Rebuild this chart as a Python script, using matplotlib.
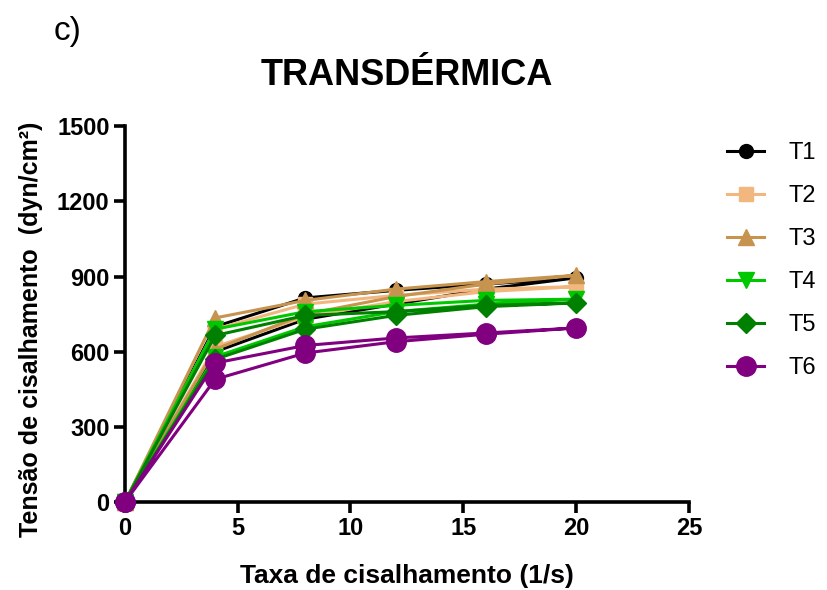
import matplotlib
matplotlib.use("Agg")
import matplotlib.pyplot as plt

plt.rcParams["font.family"] = ["Liberation Sans", "DejaVu Sans"]

# shear rate, up-ramp then down-ramp
taxa = [0, 4, 8, 12, 16, 20, 16, 12, 8, 4, 0]

# shear stress (dyn/cm2) for each sample
t1 = [0, 600, 730, 790, 850, 895, 870, 845, 815, 700, 0]
t2 = [0, 620, 740, 800, 840, 860, 850, 825, 790, 690, 0]
t3 = [0, 610, 750, 820, 870, 905, 880, 850, 805, 735, 0]
t4 = [0, 580, 700, 760, 790, 810, 805, 785, 760, 690, 0]
t5 = [0, 570, 690, 745, 780, 795, 785, 760, 745, 665, 0]
t6 = [0, 490, 595, 640, 670, 695, 675, 655, 625, 555, 0]

nomes = ["T1", "T2", "T3", "T4", "T5", "T6"]
cores = ["#000000", "#F2B77E", "#C6944F", "#00C800", "#008000", "#800080"]
marcadores = ["o", "s", "^", "v", "D", "o"]
tamanhos = [10, 10, 11, 11, 10, 14]

fig = plt.figure(figsize=(8.27, 5.9), dpi=100)
ax = fig.add_axes([0.151, 0.149, 0.682, 0.637])

for ys, nome, cor, mk, ms in zip([t1, t2, t3, t4, t5, t6], nomes, cores, marcadores, tamanhos):
    ax.plot(taxa, ys, color=cor, marker=mk, markersize=ms, linewidth=2.2,
            label=nome, clip_on=False, zorder=3)

ax.set_xlim(0, 25)
ax.set_ylim(0, 1500)
ax.set_xticks([0, 5, 10, 15, 20, 25])
ax.set_yticks([0, 300, 600, 900, 1200, 1500])

for s in ["top", "right"]:
    ax.spines[s].set_visible(False)
for s in ["left", "bottom"]:
    ax.spines[s].set_linewidth(2.6)

ax.tick_params(width=2.6, length=8, pad=3, labelsize=17)
for lbl in ax.get_xticklabels() + ax.get_yticklabels():
    lbl.set_fontweight("bold")

ax.set_xlabel("Taxa de cisalhamento (1/s)", fontsize=19, fontweight="bold")
ax.set_ylabel("Tensão de cisalhamento  (dyn/cm²)", fontsize=18, fontweight="bold")
ax.xaxis.set_label_coords(0.5, -0.165)
ax.yaxis.set_label_coords(-0.145, 0.46)
ax.set_title("TRANSDÉRMICA", fontsize=26, fontweight="bold", pad=30)

fig.text(0.065, 0.932, "c)", fontsize=24)

ax.legend(loc="upper left", bbox_to_anchor=(0.853, 0.795), bbox_transform=fig.transFigure,
          frameon=False, fontsize=17, handlelength=1.6, labelspacing=0.89,
          handletextpad=1.0)

fig.savefig("out.png", dpi=100)
